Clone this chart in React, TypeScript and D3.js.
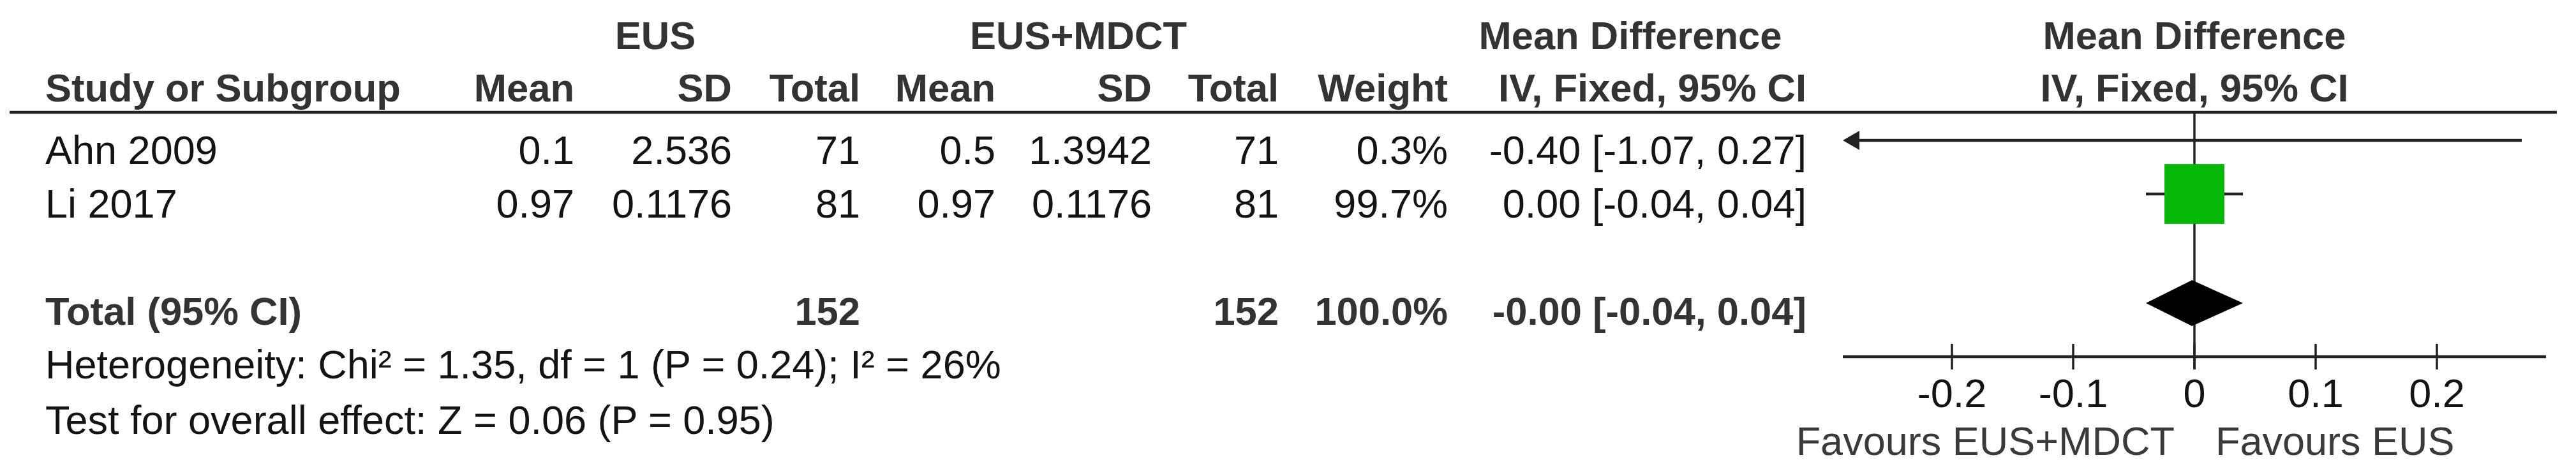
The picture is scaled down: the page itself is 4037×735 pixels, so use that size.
import React from 'react';
import * as d3 from 'd3';

// study rows
const studies = ['Ahn 2009', 'Li 2017'];
const eusMean = [0.1, 0.97];
const eusSd = [2.536, 0.1176];
const eusTotal = [71, 81];
const comboMean = [0.5, 0.97];
const comboSd = [1.3942, 0.1176];
const comboTotal = [71, 81];
const weights = [0.3, 99.7];
const meanDiff = [-0.4, 0.0];
const ciLow = [-1.07, -0.04];
const ciHigh = [0.27, 0.04];

// pooled result
const pooledEus = 152;
const pooledCombo = 152;
const pooledWeight = 100;
const pooledMd = -0.002;
const pooledLow = -0.04;
const pooledHigh = 0.04;

const heterogeneity = 'Heterogeneity: Chi² = 1.35, df = 1 (P = 0.24); I² = 26%';
const overallEffect = 'Test for overall effect: Z = 0.06 (P = 0.95)';

const tickValues = [-0.2, -0.1, 0, 0.1, 0.2];
const tickLabels = ['-0.2', '-0.1', '0', '0.1', '0.2'];
const favourLabels = ['Favours EUS+MDCT', 'Favours EUS'];

const W = 4037;
const H = 735;
const FONT = '"Liberation Sans", Arial, sans-serif';
const FS = 63;
const FSB = 61.5;

// column right edges
const col = {
	mean1: 900, sd1: 1147, total1: 1348,
	mean2: 1560, sd2: 1805, total2: 2004,
	weight: 2269, ci: 2831,
};
const rowBase = [257, 341];
const totalBase = 509;
const markerLift = 37;

const x = d3.scaleLinear().domain([-0.29, 0.29]).range([2888, 3990]);
const boxSize = d3.scaleSqrt().domain([0, 100]).range([0, 94]);
const pct = d3.format('.1f');
const ciText = (m: number, l: number, h: number) =>
	`${ m.toFixed(2) } [${ l.toFixed(2) }, ${ h.toFixed(2) }]`;

const T = (props: any) => (
	<text fontFamily={ FONT } fontSize={ FS } fill="#141414" { ...props }/>
);
const B = (props: any) => (
	<text fontFamily={ FONT } fontSize={ FSB } fontWeight="bold" fill="#333" { ...props }/>
);

const App = () => {
	const [d0, d1] = x.domain();
	const axisY = 559;
	const zeroX = x(0);

	return (
		<svg width={ W } height={ H } style={ { position: 'absolute', left: 0, top: 0, background: '#fff' } }>
			{/* headers */}
			<B x={ 1027 } y={ 77 } textAnchor="middle">EUS</B>
			<B x={ 1690 } y={ 77 } textAnchor="middle">EUS+MDCT</B>
			<B x={ 2555 } y={ 77 } textAnchor="middle">Mean Difference</B>
			<B x={ zeroX } y={ 77 } textAnchor="middle">Mean Difference</B>
			<B x={ 71 } y={ 159 }>Study or Subgroup</B>
			<B x={ col.mean1 } y={ 159 } textAnchor="end">Mean</B>
			<B x={ col.sd1 } y={ 159 } textAnchor="end">SD</B>
			<B x={ col.total1 } y={ 159 } textAnchor="end">Total</B>
			<B x={ col.mean2 } y={ 159 } textAnchor="end">Mean</B>
			<B x={ col.sd2 } y={ 159 } textAnchor="end">SD</B>
			<B x={ col.total2 } y={ 159 } textAnchor="end">Total</B>
			<B x={ col.weight } y={ 159 } textAnchor="end">Weight</B>
			<B x={ col.ci } y={ 159 } textAnchor="end">IV, Fixed, 95% CI</B>
			<B x={ zeroX } y={ 159 } textAnchor="middle">IV, Fixed, 95% CI</B>
			<line x1={ 15 } x2={ 4007 } y1={ 176 } y2={ 176 } stroke="#222" strokeWidth={ 4.5 }/>

			{/* study rows */}
			{ studies.map((s, i) => (
				<g key={ s }>
					<T x={ 71 } y={ rowBase[i] }>{ s }</T>
					<T x={ col.mean1 } y={ rowBase[i] } textAnchor="end">{ String(eusMean[i]) }</T>
					<T x={ col.sd1 } y={ rowBase[i] } textAnchor="end">{ String(eusSd[i]) }</T>
					<T x={ col.total1 } y={ rowBase[i] } textAnchor="end">{ eusTotal[i] }</T>
					<T x={ col.mean2 } y={ rowBase[i] } textAnchor="end">{ String(comboMean[i]) }</T>
					<T x={ col.sd2 } y={ rowBase[i] } textAnchor="end">{ String(comboSd[i]) }</T>
					<T x={ col.total2 } y={ rowBase[i] } textAnchor="end">{ comboTotal[i] }</T>
					<T x={ col.weight } y={ rowBase[i] } textAnchor="end">{ `${ pct(weights[i]) }%` }</T>
					<T x={ col.ci } y={ rowBase[i] } textAnchor="end">{ ciText(meanDiff[i], ciLow[i], ciHigh[i]) }</T>
				</g>
			)) }

			{/* total row */}
			<B x={ 71 } y={ totalBase }>Total (95% CI)</B>
			<B x={ col.total1 } y={ totalBase } textAnchor="end">{ pooledEus }</B>
			<B x={ col.total2 } y={ totalBase } textAnchor="end">{ pooledCombo }</B>
			<B x={ col.weight } y={ totalBase } textAnchor="end">{ `${ pct(pooledWeight) }%` }</B>
			<B x={ col.ci } y={ totalBase } textAnchor="end">{ ciText(pooledMd, pooledLow, pooledHigh) }</B>
			<T x={ 71 } y={ 593 }>{ heterogeneity }</T>
			<T x={ 71 } y={ 680 }>{ overallEffect }</T>

			{/* forest plot */}
			<line x1={ zeroX } x2={ zeroX } y1={ 176 } y2={ axisY + 20 } stroke="#222" strokeWidth={ 3.5 }/>
			{ studies.map((s, i) => {
				const y = rowBase[i] - markerLift;
				const lo = Math.max(ciLow[i], d0);
				const hi = Math.min(ciHigh[i], d1);
				const inRange = meanDiff[i] >= d0 && meanDiff[i] <= d1;
				const sz = boxSize(weights[i]);
				return (
					<g key={ `m-${ s }` }>
						<line x1={ x(lo) + (ciLow[i] < d0 ? 20 : 0) } x2={ x(hi) - (ciHigh[i] > d1 ? 20 : 0) }
							y1={ y } y2={ y } stroke="#222" strokeWidth={ 4.5 }/>
						{ ciLow[i] < d0 && (
							<path d={ `M${ x(d0) },${ y }L${ x(d0) + 26 },${ y - 15 }L${ x(d0) + 26 },${ y + 15 }Z` } fill="#222"/>
						) }
						{ ciHigh[i] > d1 && (
							<path d={ `M${ x(d1) },${ y }L${ x(d1) - 26 },${ y - 15 }L${ x(d1) - 26 },${ y + 15 }Z` } fill="#222"/>
						) }
						{ inRange && (
							<rect x={ x(meanDiff[i]) - sz / 2 } y={ y - sz / 2 } width={ sz } height={ sz } fill="#06b806"/>
						) }
					</g>
				);
			}) }
			<path d={ `M${ x(pooledLow) },${ totalBase - 34 }L${ x(pooledMd) },${ totalBase - 70 }L${ x(pooledHigh) },${ totalBase - 34 }L${ x(pooledMd) },${ totalBase + 2 }Z` } fill="#000"/>

			{/* axis */}
			<line x1={ x(d0) } x2={ x(d1) } y1={ axisY } y2={ axisY } stroke="#222" strokeWidth={ 4.5 }/>
			{ tickValues.map((t, i) => (
				<g key={ t }>
					<line x1={ x(t) } x2={ x(t) } y1={ axisY - 20 } y2={ axisY + 20 } stroke="#222" strokeWidth={ 3.5 }/>
					<T x={ x(t) } y={ 638 } textAnchor="middle">{ tickLabels[i] }</T>
				</g>
			)) }
			<T x={ zeroX - 31 } y={ 713 } textAnchor="end" fill="#3a3a3a">{ favourLabels[0] }</T>
			<T x={ zeroX + 33 } y={ 713 } fill="#3a3a3a">{ favourLabels[1] }</T>
		</svg>
	);
};

export default App;
